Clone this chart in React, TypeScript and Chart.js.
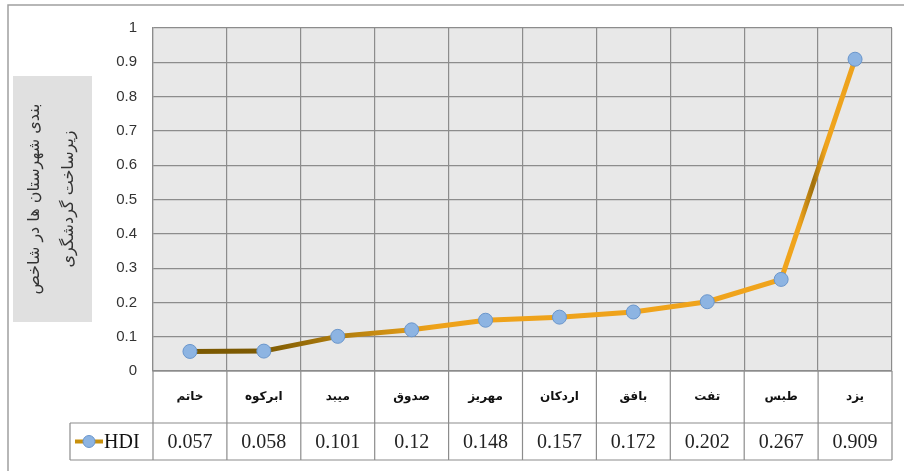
import React, { useEffect, useRef } from "react";
import { Chart, registerables } from "chart.js";

Chart.register(...registerables);

const categories = ["خاتم", "ابرکوه", "میبد", "صدوق", "مهریز", "اردکان", "بافق", "تفت", "طبس", "یزد"];
const hdiValues = [0.057, 0.058, 0.101, 0.12, 0.148, 0.157, 0.172, 0.202, 0.267, 0.909];
const seriesName = "HDI";
const yMin = 0;
const yMax = 1;
const yStep = 0.1;
const yTitleLines = ["بندی شهرستان ها در شاخص", "زیرساخت گردشگری"];

const GRID = "#8c8c8c";
const MARKER_FILL = "#8db4e2";
const MARKER_BORDER = "#6a96cc";

function lineGradient(chart: any) {
  const { ctx, chartArea } = chart;
  if (!chartArea) return "#e8a020";
  const g = ctx.createLinearGradient(chartArea.left, 0, chartArea.right, 0);
  g.addColorStop(0, "#7a5800");
  g.addColorStop(0.15, "#7d5a02");
  g.addColorStop(0.27, "#b8820f");
  g.addColorStop(0.38, "#eea21a");
  g.addColorStop(0.875, "#f0a41c");
  g.addColorStop(0.893, "#a0700c");
  g.addColorStop(0.91, "#f0a41c");
  g.addColorStop(1, "#e8a020");
  return g;
}

const decorPlugin = {
  id: "decor",
  beforeDraw(chart: any) {
    const { ctx, chartArea: a } = chart;
    ctx.save();
    ctx.fillStyle = "#e8e8e8";
    ctx.fillRect(a.left, a.top, a.right - a.left, a.bottom - a.top);
    ctx.strokeStyle = "#a0a0a0";
    ctx.lineWidth = 1.5;
    ctx.beginPath();
    ctx.moveTo(8, 471);
    ctx.lineTo(8, 5);
    ctx.lineTo(904, 5);
    ctx.stroke();
    ctx.fillStyle = "#e0e0e0";
    ctx.fillRect(13, 76, 79, 246);
    ctx.fillStyle = "#333333";
    ctx.font = "16px 'DejaVu Sans'";
    ctx.textAlign = "center";
    ctx.textBaseline = "middle";
    ctx.direction = "rtl";
    const cx = [35, 69];
    yTitleLines.forEach((t, i) => {
      ctx.save();
      ctx.translate(cx[i], 199);
      ctx.rotate(-Math.PI / 2);
      ctx.fillText(t, 0, 0);
      ctx.restore();
    });
    ctx.restore();
  },
  afterDraw(chart: any) {
    const { ctx, chartArea: a, scales } = chart;
    const xs = scales.x;
    const rowTop = a.bottom;
    const rowMid = a.bottom + 52;
    const rowBot = a.bottom + 89;
    const legendLeft = 70;
    ctx.save();
    ctx.strokeStyle = GRID;
    ctx.lineWidth = 1.2;
    ctx.beginPath();
    ctx.moveTo(a.left, rowTop);
    ctx.lineTo(a.right, rowTop);
    ctx.moveTo(legendLeft, rowMid);
    ctx.lineTo(a.right, rowMid);
    ctx.moveTo(legendLeft, rowBot);
    ctx.lineTo(a.right, rowBot);
    const n = categories.length;
    const w = (a.right - a.left) / n;
    for (let i = 0; i <= n; i++) {
      const x = i === n ? a.right : xs.getPixelForValue(i) - w / 2;
      ctx.moveTo(x, rowTop);
      ctx.lineTo(x, rowBot);
    }
    ctx.moveTo(legendLeft, rowMid);
    ctx.lineTo(legendLeft, rowBot);
    ctx.stroke();

    ctx.fillStyle = "#111111";
    ctx.font = "bold 12px 'DejaVu Sans'";
    ctx.textAlign = "center";
    ctx.textBaseline = "middle";
    ctx.direction = "rtl";
    categories.forEach((c, i) => {
      ctx.fillText(c, xs.getPixelForValue(i), rowTop + 26);
    });
    ctx.direction = "ltr";
    ctx.font = "20px 'Liberation Serif'";
    ctx.fillStyle = "#222222";
    hdiValues.forEach((v, i) => {
      ctx.fillText(String(v), xs.getPixelForValue(i), (rowMid + rowBot) / 2 + 1);
    });
    const ly = (rowMid + rowBot) / 2;
    ctx.strokeStyle = "#c8900c";
    ctx.lineWidth = 4;
    ctx.beginPath();
    ctx.moveTo(75, ly);
    ctx.lineTo(103, ly);
    ctx.stroke();
    ctx.beginPath();
    ctx.arc(89, ly, 6, 0, Math.PI * 2);
    ctx.fillStyle = MARKER_FILL;
    ctx.fill();
    ctx.lineWidth = 1;
    ctx.strokeStyle = MARKER_BORDER;
    ctx.stroke();
    ctx.fillStyle = "#111111";
    ctx.textAlign = "left";
    ctx.font = "20px 'Liberation Serif'";
    ctx.fillText(seriesName, 104, ly + 1);
    ctx.restore();
  },
};

export default function App() {
  const ref = useRef<HTMLCanvasElement | null>(null);
  useEffect(() => {
    if (!ref.current) return;
    const chart = new Chart(ref.current, {
      type: "line",
      data: {
        labels: categories,
        datasets: [
          {
            label: seriesName,
            data: hdiValues,
            borderColor: (c: any) => lineGradient(c.chart),
            borderWidth: 5,
            tension: 0,
            pointRadius: 7,
            pointHoverRadius: 7,
            pointBackgroundColor: MARKER_FILL,
            pointBorderColor: MARKER_BORDER,
            pointBorderWidth: 1,
          },
        ],
      },
      options: {
        responsive: false,
        animation: false,
        layout: { padding: { left: 0, right: 12, top: 28, bottom: 0 } },
        plugins: { legend: { display: false }, tooltip: { enabled: false } },
        scales: {
          x: {
            offset: true,
            grid: { offset: true, color: GRID, lineWidth: 1.2, drawTicks: false },
            border: { color: GRID, width: 1.2 },
            ticks: { display: false },
            afterFit: (s: any) => {
              s.height = 100;
            },
          },
          y: {
            min: yMin,
            max: yMax,
            ticks: {
              stepSize: yStep,
              padding: 16,
              color: "#333333",
              font: { family: "'Liberation Sans'", size: 15 },
              callback: (v: any) => String(Number(Number(v).toFixed(1))),
            },
            grid: { color: GRID, lineWidth: 1.2, drawTicks: false },
            border: { color: GRID, width: 1.2 },
            afterFit: (s: any) => {
              s.width = 153;
            },
          },
        },
      },
      plugins: [decorPlugin],
    });
    return () => chart.destroy();
  }, []);
  return (
    <div style={{ position: "absolute", left: 0, top: 0, width: 904, height: 471, background: "#fff" }}>
      <canvas ref={ref} width={904} height={471} />
    </div>
  );
}
